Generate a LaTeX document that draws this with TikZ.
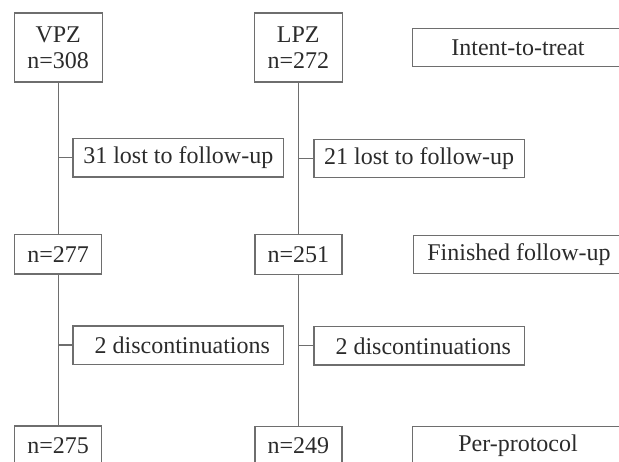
\documentclass[tikz,border=0pt]{standalone}
\usepackage{fontspec}
\setmainfont{Liberation Serif}
\definecolor{linecol}{HTML}{6E6E6E}
\definecolor{textcol}{HTML}{2B2B2B}
\begin{document}
\begin{tikzpicture}[x=1pt,y=-1pt,
  box/.style={draw=linecol,line width=1.4pt,inner sep=0pt,outer sep=0pt,
    text=textcol,font=\fontsize{24}{26}\selectfont,align=center},
  sbox/.style={box,minimum width=87pt,minimum height=39.5pt},
  tbox/.style={box,minimum width=88pt,minimum height=69pt},
  wbox/.style={box,minimum width=210.5pt,minimum height=38.5pt},
  conn/.style={draw=linecol,line width=1.4pt}]
\useasboundingbox (0,0) rectangle (619,462);
\clip (0,0) rectangle (619,462);
% top row
\node[tbox] (vpz) at (58.2,47.5) {VPZ\\n=308};
\node[tbox] (lpz) at (298.3,47.5) {LPZ\\n=272};
\node[wbox] (itt) at (518,47.5) {Intent-to-treat};
% losses
\node[wbox] (lost1) at (178.3,157.8) {31 lost to follow-up};
\node[wbox] (lost2) at (419.2,158.5) {21 lost to follow-up};
% middle row
\node[sbox] (n277) at (58.2,254.2) {n=277};
\node[sbox] (n251) at (298.3,254.5) {n=251};
\node[wbox] (fin) at (519,254.5) {Finished follow-up};
% discontinuations
\node[wbox] (disc1) at (178.3,345.2) {\hspace*{8pt}2 discontinuations};
\node[wbox] (disc2) at (419.2,345.8) {\hspace*{8pt}2 discontinuations};
% bottom row
\node[sbox] (n275) at (58.2,445.7) {n=275};
\node[sbox] (n249) at (298.3,446) {n=249};
\node[wbox] (pp) at (518,446) {Per-protocol};
% connectors
\draw[conn] (vpz.south) -- (n277.north);
\draw[conn] (n277.south) -- (n275.north);
\draw[conn] (lpz.south) -- (n251.north);
\draw[conn] (n251.south) -- (n249.north);
\draw[conn] (lost1.west) -- (lost1.west -| vpz.south);
\draw[conn] (disc1.west) -- (disc1.west -| vpz.south);
\draw[conn] (lost2.west) -- (lost2.west -| lpz.south);
\draw[conn] (disc2.west) -- (disc2.west -| lpz.south);
\end{tikzpicture}
\end{document}
